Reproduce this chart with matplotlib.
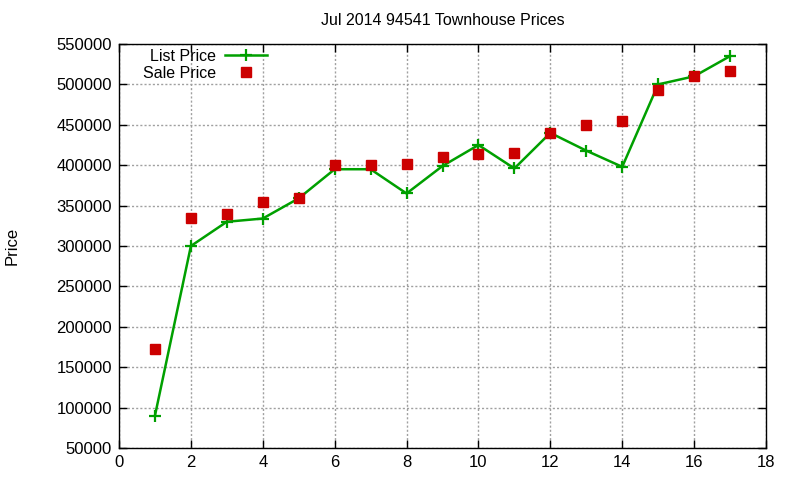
import matplotlib
matplotlib.use("Agg")
import matplotlib.pyplot as plt

plt.rcParams['font.family'] = ['Liberation Sans', 'DejaVu Sans']

x = [1, 2, 3, 4, 5, 6, 7, 8, 9, 10, 11, 12, 13, 14, 15, 16, 17]
list_price = [90000, 300000, 330000, 334000, 359000, 395000, 395000, 365000, 399000,
              425000, 396000, 440000, 418000, 398000, 500000, 510000, 535000]
sale_price = [173000, 335000, 340000, 355000, 360000, 400000, 400000, 402000, 410000,
              414000, 415000, 440000, 450000, 455000, 493000, 510000, 516000]
xticks = list(range(0, 19, 2))
yticks = list(range(50000, 550001, 50000))

fig = plt.figure(figsize=(8, 4.8), dpi=100)
ax = fig.add_axes([119/800, 1-448/480, (766-119)/800, (448-44)/480])

ax.plot(x, list_price, color='#00a000', lw=1.8, marker='+', ms=9, mew=1.6,
        label='List Price', zorder=3)
ax.plot(x, sale_price, color='#cc0000', lw=0, marker='s', ms=6.5,
        label='Sale Price', zorder=4)

ax.set_xlim(0, 18)
ax.set_ylim(50000, 550000)
ax.set_xticks(xticks)
ax.set_yticks(yticks)
ax.set_yticklabels([str(v) for v in yticks])
ax.tick_params(direction='in', length=6, width=1, top=True, right=True,
               labelsize=12, pad=5)
ax.grid(True, color='#a0a0a0', linestyle=(0, (1.5, 1.5)), lw=1)
for s in ax.spines.values():
    s.set_linewidth(1)
    s.set_color('black')

ax.set_title('Jul 2014 94541 Townhouse Prices', fontsize=11.5, pad=14)
fig.text(12/800, 1-246/480, 'Price', rotation=90, ha='center', va='center', fontsize=12)

leg = fig.legend(loc='upper right', bbox_to_anchor=(267/800, 1-49/480), frameon=False,
                 markerfirst=False, fontsize=11.5, handlelength=2.6,
                 handletextpad=0.6, labelspacing=0.12, borderaxespad=0, borderpad=0)

fig.savefig('out.png', dpi=100)
